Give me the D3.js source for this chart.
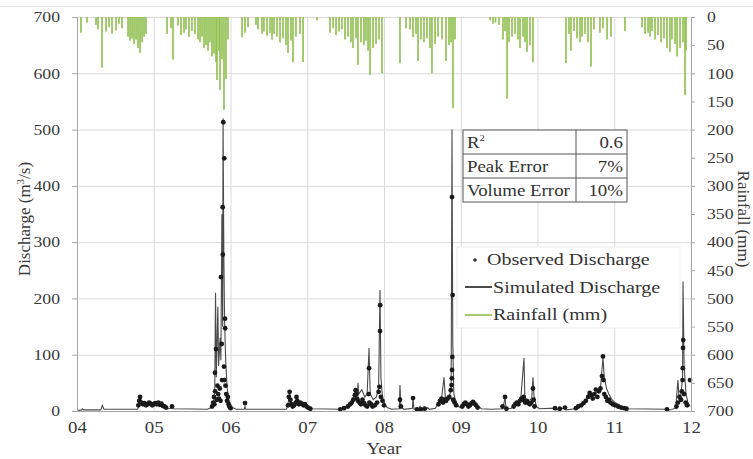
<!DOCTYPE html>
<html>
<head>
<meta charset="utf-8">
<script src="https://cdnjs.cloudflare.com/ajax/libs/d3/7.8.5/d3.min.js"></script>
<style>
    body { margin: 0; background: #fff; }
    svg { display: block; font-family: 'Liberation Serif', 'Times New Roman', serif; }
    .axis path, .axis line { stroke: #a6a6a6; }
    .grid line { stroke: #dadada; }
    .grid path { display: none; }
    .axis-label { font-size: 17px; fill: #3a3a3a; }
    .box text { fill: #333; }
</style>
</head>
<body>
<svg id="chart"></svg>
<script>
//DATA (x values are years since 2000)

//tick values
var yearTicks = [4, 5, 6, 7, 8, 9, 10, 11, 12];
var yearLabels = ['04', '05', '06', '07', '08', '09', '10', '11', '12'];
var dischargeTicks = [0, 100, 200, 300, 400, 500, 600, 700];
var rainTicks = [0, 50, 100, 150, 200, 250, 300, 350, 400, 450, 500, 550, 600, 650, 700];

//fit statistics
var statLabels = ['R', 'Peak Error', 'Volume Error'];
var statValues = ['0.6', '7%', '10%'];

//legend
var legendLabels = ['Observed Discharge', 'Simulated Discharge', 'Rainfall (mm)'];

//rainfall (mm), hanging from the top
var rainfall = [
    [4.052,28],[4.130,10],[4.248,14],[4.274,22],[4.326,90],[4.378,26],[4.417,18],[4.456,30],[4.508,24],[4.547,12],
    [4.586,20],[4.665,35],[4.691,42],[4.717,38],[4.743,48],[4.769,40],[4.795,55],[4.821,64],[4.847,45],[4.873,35],
    [4.899,30],[5.173,30],[5.225,20],[5.251,76],[5.316,15],[5.355,32],[5.394,28],[5.420,22],[5.459,35],[5.498,25],
    [5.537,30],[5.577,40],[5.603,45],[5.629,35],[5.655,55],[5.681,50],[5.707,60],[5.733,45],[5.759,70],[5.785,65],
    [5.811,80],[5.824,112],[5.850,60],[5.863,130],[5.889,75],[5.915,165],[5.941,110],[5.967,40],[6.150,36],[6.189,28],
    [6.228,18],[6.332,14],[6.358,22],[6.410,30],[6.436,26],[6.476,34],[6.515,28],[6.541,40],[6.567,30],[6.606,35],
    [6.645,45],[6.684,38],[6.723,50],[6.749,64],[6.788,42],[6.814,80],[6.853,35],[6.906,30],[6.945,80],[7.127,6],
    [7.296,28],[7.336,20],[7.375,32],[7.414,26],[7.453,22],[7.492,40],[7.531,35],[7.570,45],[7.596,55],[7.635,38],
    [7.661,85],[7.700,45],[7.739,50],[7.765,42],[7.792,60],[7.818,103],[7.857,55],[7.896,48],[7.935,40],[7.974,100],
    [8.208,82],[8.287,20],[8.339,22],[8.378,36],[8.417,30],[8.443,78],[8.482,40],[8.521,45],[8.560,38],[8.599,55],
    [8.625,100],[8.665,48],[8.704,35],[8.756,40],[8.808,78],[8.847,50],[8.873,45],[8.899,162],[8.925,40],[9.381,6],
    [9.420,12],[9.453,10],[9.498,14],[9.550,40],[9.577,25],[9.603,145],[9.629,45],[9.668,35],[9.707,30],[9.746,40],
    [9.772,55],[9.811,35],[9.837,45],[9.863,62],[9.902,50],[9.941,80],[10.371,82],[10.410,30],[10.436,60],[10.476,25],
    [10.515,38],[10.554,45],[10.580,35],[10.619,30],[10.658,45],[10.697,88],[10.736,22],[10.814,28],[10.853,20],[10.906,40],
    [10.958,35],[11.140,25],[11.362,18],[11.401,30],[11.440,28],[11.466,35],[11.492,25],[11.531,40],[11.570,32],[11.609,45],
    [11.648,38],[11.687,55],[11.726,62],[11.752,40],[11.792,48],[11.818,70],[11.857,55],[11.896,45],[11.922,139],[11.935,60]
];

//simulated discharge (m3/s)
var simulated = [
    [4.00,1],[4.06,2],[4.07,4],[4.09,2],[4.31,2],[4.33,10],[4.35,3],[4.79,3],[4.81,12],[4.821,28],[4.84,18],[4.87,14],
    [4.91,12],[4.96,13],[5.00,11],[5.05,14],[5.10,10],[5.14,8],[5.18,4],[5.225,5],[5.238,12],[5.25,4],[5.70,3],[5.75,6],
    [5.78,15],[5.795,40],[5.805,210],[5.815,60],[5.835,185],[5.845,80],[5.865,130],[5.875,90],[5.888,350],[5.898,150],
    [5.903,520],[5.913,280],[5.923,160],[5.937,90],[5.957,40],[5.977,20],[5.997,12],[6.025,6],[6.075,3],[6.18,3],
    [6.189,8],[6.20,3],[6.73,3],[6.76,20],[6.77,34],[6.79,15],[6.81,12],[6.85,18],[6.87,25],[6.89,12],[6.93,15],
    [6.97,10],[7.01,8],[7.05,4],[7.43,3],[7.48,6],[7.53,10],[7.58,18],[7.62,30],[7.64,38],[7.655,28],[7.661,50],
    [7.67,30],[7.71,38],[7.75,25],[7.78,30],[7.805,112],[7.82,30],[7.86,20],[7.90,25],[7.93,40],[7.948,215],[7.96,60],
    [7.98,25],[8.01,12],[8.04,6],[8.10,3],[8.20,4],[8.208,46],[8.22,8],[8.26,3],[8.37,5],[8.378,23],[8.39,4],[8.45,3],
    [8.47,8],[8.49,3],[8.55,3],[8.57,6],[8.59,3],[8.67,5],[8.71,15],[8.75,22],[8.782,60],[8.80,22],[8.83,20],[8.86,30],
    [8.875,42],[8.886,500],[8.896,120],[8.91,30],[8.93,20],[8.96,10],[8.99,6],[9.03,12],[9.07,16],[9.11,10],[9.15,14],
    [9.19,12],[9.23,8],[9.27,4],[9.40,3],[9.55,4],[9.577,25],[9.59,4],[9.66,5],[9.70,12],[9.74,15],[9.78,18],[9.824,94],
    [9.835,25],[9.865,18],[9.905,20],[9.925,22],[9.941,60],[9.955,25],[9.985,8],[10.025,4],[10.228,5],[10.24,2],
    [10.358,5],[10.37,2],[10.50,4],[10.55,8],[10.59,12],[10.63,20],[10.67,32],[10.71,25],[10.75,30],[10.788,35],
    [10.82,40],[10.853,95],[10.87,60],[10.90,40],[10.93,30],[10.97,20],[11.01,15],[11.05,12],[11.10,8],[11.15,4],
    [11.687,3],[11.70,1],[11.80,5],[11.83,55],[11.845,20],[11.87,30],[11.89,60],[11.896,230],[11.91,80],[11.935,30],
    [11.96,15],[11.99,8]
];

//observed discharge (m3/s)
var observed = [
    [4.80,10],[4.81,18],[4.821,25],[4.84,15],[4.86,12],[4.88,14],[4.90,10],[4.92,12],[4.94,15],[4.96,13],[4.98,10],
    [5.00,12],[5.02,14],[5.04,12],[5.06,15],[5.08,11],[5.10,13],[5.12,9],[5.14,8],[5.16,6],[5.238,8],
    [5.76,8],[5.775,15],[5.785,25],[5.79,12],[5.798,68],[5.80,35],[5.811,110],[5.82,20],[5.83,45],[5.84,30],[5.85,22],
    [5.86,40],[5.87,18],[5.876,238],[5.885,119],[5.89,55],[5.898,362],[5.90,278],[5.906,513],[5.919,449],[5.915,79],
    [5.92,55],[5.928,164],[5.93,147],[5.935,45],[5.945,30],[5.955,18],[5.965,25],[5.975,12],[5.985,8],[6.00,5],[6.189,14],
    [6.75,10],[6.76,25],[6.77,34],[6.78,20],[6.79,12],[6.81,8],[6.83,10],[6.85,15],[6.86,25],[6.87,18],[6.89,12],
    [6.91,15],[6.93,13],[6.95,10],[6.97,12],[6.99,8],[7.01,6],[7.04,4],
    [7.43,3],[7.48,5],[7.53,8],[7.56,12],[7.58,15],[7.60,20],[7.62,28],[7.63,37],[7.64,30],[7.65,22],[7.66,18],[7.68,15],
    [7.70,12],[7.72,20],[7.74,14],[7.76,10],[7.78,8],[7.80,30],[7.805,76],[7.81,15],[7.83,12],[7.85,8],[7.88,10],
    [7.91,15],[7.93,34],[7.94,43],[7.948,142],[7.95,188],[7.96,25],[7.98,18],[8.00,10],
    [8.208,20],[8.22,8],[8.378,23],[8.43,3],[8.48,3],[8.53,4],
    [8.71,12],[8.73,18],[8.75,22],[8.77,15],[8.79,20],[8.81,18],[8.83,22],[8.85,25],[8.87,37],[8.88,46],[8.884,58],
    [8.887,73],[8.89,96],[8.894,206],[8.886,380],[8.90,20],[8.92,15],[8.94,10],
    [9.02,8],[9.04,12],[9.06,15],[9.08,12],[9.10,8],[9.12,10],[9.14,14],[9.16,16],[9.18,13],[9.20,10],[9.22,6],
    [9.545,8],[9.577,25],[9.595,4],
    [9.69,8],[9.71,12],[9.73,15],[9.75,12],[9.77,18],[9.79,22],[9.81,20],[9.82,25],[9.84,15],[9.86,18],[9.88,14],
    [9.90,12],[9.92,15],[9.941,40],[9.95,20],[9.96,8],
    [10.228,5],[10.29,4],[10.358,6],
    [10.50,5],[10.53,8],[10.57,10],[10.60,14],[10.63,18],[10.66,25],[10.68,32],[10.70,28],[10.72,22],[10.74,30],
    [10.76,38],[10.78,25],[10.80,35],[10.82,40],[10.84,62],[10.853,97],[10.86,55],[10.87,30],[10.89,25],[10.91,18],
    [10.93,20],[10.95,15],[10.98,12],[11.01,10],[11.05,8],[11.09,6],[11.13,5],[11.16,4],
    [11.687,3],
    [11.81,8],[11.83,15],[11.85,25],[11.87,20],[11.88,35],[11.89,55],[11.893,76],[11.896,112],[11.899,126],[11.91,30],
    [11.93,15],[11.95,10],[11.987,55]
];

//CHART

//chart parameters
var svg = d3.select('#chart')
    .attr('width', 753)
    .attr('height', 459);

//define margins and chart extent
var margin = {top: 17, right: 62, bottom: 48, left: 77},
    width = +svg.attr('width') - margin.left - margin.right,
    height = +svg.attr('height') - margin.top - margin.bottom;

//define scales
var xScale = d3.scaleLinear().domain([4, 12]).range([0, width]),
    yScale = d3.scaleLinear().domain([0, 700]).range([height, 0]),
    rainScale = d3.scaleLinear().domain([0, 700]).range([0, height]);

//the source figure is stretched sideways, so text is widened a little
var stretch = 1.18;

//serif, widened tick text (the axis generator sets its own font)
function styleAxis(g, size) {
    g.attr('font-family', null).attr('font-size', null);
    g.selectAll('text')
        .style('font-family', "'Liberation Serif', 'Times New Roman', serif")
        .style('font-size', size + 'px')
        .style('fill', '#3a3a3a')
        .each(function() {
            var t = d3.select(this),
                x = +t.attr('x') || 0;
            t.attr('x', x / stretch).attr('transform', 'scale(' + stretch + ',1)');
        });
}

//widened text at a point
function addText(g, x, y, s, size, anchor) {
    return g.append('text')
        .attr('transform', 'translate(' + x + ',' + y + ') scale(' + stretch + ',1)')
        .style('font-size', size + 'px')
        .style('text-anchor', anchor || 'start')
        .text(s);
}

//thin frame line at the top of the figure
svg.append('line')
    .attr('x1', 0).attr('x2', 753)
    .attr('y1', 6.5).attr('y2', 6.5)
    .style('stroke', '#e2e2e2');

//create chart group
var canvas = svg.append('g')
    .attr('class', 'canvas')
    .attr('transform', 'translate(' + margin.left + ',' + margin.top + ')');

//horizontal gridlines
canvas.append('g')
    .attr('class', 'grid')
    .call(d3.axisLeft(yScale)
        .tickValues(dischargeTicks.slice(1))
        .tickSize(-width)
        .tickFormat(''));

//vertical gridlines
canvas.append('g')
    .attr('class', 'grid')
    .call(d3.axisBottom(xScale)
        .tickValues(yearTicks.slice(1, -1))
        .tickSize(height)
        .tickFormat(''));

//rainfall bars
canvas.append('g')
    .selectAll('rect').data(rainfall)
    .enter().append('rect')
        .attr('x', d => xScale(d[0]) - 0.8)
        .attr('y', 0)
        .attr('width', 1.6)
        .attr('height', d => rainScale(d[1]))
        .style('fill', '#8fbf4d');

//simulated discharge line
var line = d3.line()
    .x(d => xScale(d[0]))
    .y(d => yScale(d[1]));

canvas.append('path')
    .datum(simulated)
    .attr('d', line)
    .style('fill', 'none')
    .style('stroke', '#4a4a4a')
    .style('stroke-width', 1.1);

//observed discharge dots
canvas.append('g')
    .selectAll('circle').data(observed)
    .enter().append('circle')
        .attr('cx', d => xScale(d[0]))
        .attr('cy', d => yScale(d[1]))
        .attr('r', 2.4)
        .style('fill', '#1a1a1a');

//x axis
canvas.append('g')
    .attr('class', 'axis axis-x')
    .attr('transform', 'translate(0,' + height + ')')
    .call(d3.axisBottom(xScale)
        .tickValues(yearTicks)
        .tickSize(0)
        .tickPadding(11)
        .tickFormat((d, i) => yearLabels[i]))
    .call(styleAxis, 16);

//left y axis
canvas.append('g')
    .attr('class', 'axis axis-y')
    .call(d3.axisLeft(yScale)
        .tickValues(dischargeTicks)
        .tickSize(5)
        .tickPadding(12))
    .call(styleAxis, 15);

//right rainfall axis
canvas.append('g')
    .attr('class', 'axis axis-rain')
    .attr('transform', 'translate(' + width + ',0)')
    .call(d3.axisRight(rainScale)
        .tickValues(rainTicks)
        .tickSize(4)
        .tickPadding(12))
    .call(styleAxis, 15);

//x axis label
addText(svg, 384, 454, 'Year', 16, 'middle')
    .attr('class', 'axis-label');

//left y axis label
var ylab = svg.append('text')
    .attr('class', 'axis-label')
    .attr('transform', 'translate(30,219) rotate(-90)')
    .style('text-anchor', 'middle');
ylab.append('tspan').text('Discharge (m');
ylab.append('tspan').attr('dy', -6).style('font-size', '11px').text('3');
ylab.append('tspan').attr('dy', 6).text('/s)');

//right y axis label
svg.append('text')
    .attr('class', 'axis-label')
    .attr('transform', 'translate(738,219) rotate(90)')
    .style('text-anchor', 'middle')
    .text('Rainfall (mm)');

//statistics table
var table = svg.append('g')
    .attr('class', 'box')
    .attr('transform', 'translate(463,130)');

var rowH = 24, colW = 113, tableW = 164;

table.append('rect')
    .attr('width', tableW)
    .attr('height', rowH * statLabels.length)
    .style('fill', '#fff')
    .style('stroke', '#555');

statLabels.forEach((s, i) => {
    if (i > 0) {
        table.append('line')
            .attr('x1', 0).attr('x2', tableW)
            .attr('y1', i * rowH).attr('y2', i * rowH)
            .style('stroke', '#555');
    }
    var t = addText(table, 4, i * rowH + 18, s, 16);
    if (i == 0) {
        t.append('tspan').attr('dy', -7).style('font-size', '9px').text('2');
    }
    addText(table, tableW - 4, i * rowH + 18, statValues[i], 16, 'end');
});

table.append('line')
    .attr('x1', colW).attr('x2', colW)
    .attr('y1', 0).attr('y2', rowH * statLabels.length)
    .style('stroke', '#555');

//legend
var legend = svg.append('g')
    .attr('class', 'box')
    .attr('transform', 'translate(457,247)');

legend.append('rect')
    .attr('width', 223)
    .attr('height', 81)
    .style('fill', '#fff')
    .style('stroke', '#ececec');

legend.append('circle')
    .attr('cx', 18).attr('cy', 13)
    .attr('r', 1.8)
    .style('fill', '#333');

legend.append('line')
    .attr('x1', 8).attr('x2', 35)
    .attr('y1', 40).attr('y2', 40)
    .style('stroke', '#4a4a4a')
    .style('stroke-width', 2);

legend.append('line')
    .attr('x1', 8).attr('x2', 35)
    .attr('y1', 68).attr('y2', 68)
    .style('stroke', '#a9c96b')
    .style('stroke-width', 2);

legendLabels.forEach((s, i) => {
    addText(legend, i == 0 ? 30 : 36, 18 + i * 27.5, s, 17);
});
</script>
</body>
</html>
